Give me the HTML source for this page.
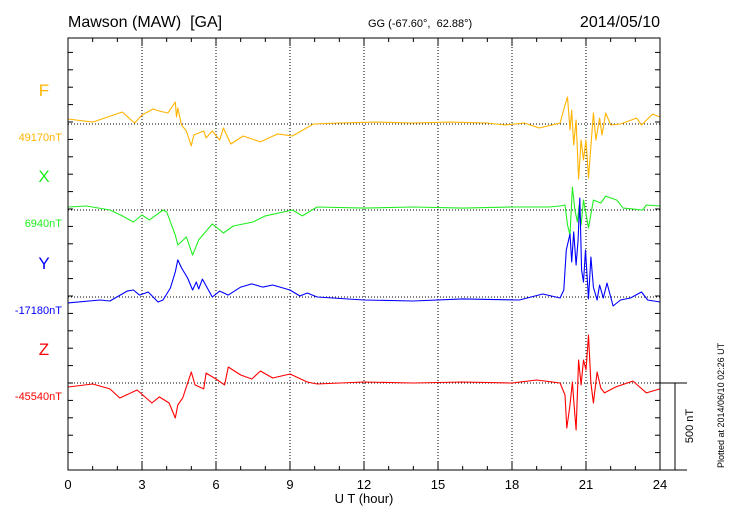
<!DOCTYPE html>
<html><head><meta charset="utf-8"><style>
body{margin:0;background:#fff;}
svg{display:block;font-family:"Liberation Sans",sans-serif;}
svg text{white-space:pre;}
</style></head><body>
<svg id="chart" width="730" height="520" viewBox="0 0 730 520">
<text x="68" y="27" font-size="16" xml:space="preserve">Mawson (MAW)  [GA]</text>
<text x="368" y="27" font-size="11" xml:space="preserve">GG (-67.60°,  62.88°)</text>
<text x="660" y="27" font-size="16" text-anchor="end">2014/05/10</text>
<g id="grid"></g>
<g id="series"></g>
<rect x="68" y="38" width="592" height="432" fill="none" stroke="#000" stroke-width="1"/>
<g id="ticks"></g>
<text x="364" y="503" font-size="13" text-anchor="middle">U T (hour)</text>
<g stroke="#000" stroke-width="1">
<line x1="660" y1="383" x2="687" y2="383"/><line x1="675" y1="383" x2="675" y2="470"/><line x1="660" y1="470" x2="687" y2="470"/>
</g>
<text transform="translate(693,426) rotate(-90)" font-size="11" text-anchor="middle">500 nT</text>
<text transform="translate(724,468) rotate(-90)" font-size="9">Plotted at 2014/06/10 02:26 UT</text>
</svg>
<script>
const hoursF=[0,1,2.2,2.7,3,3.45,3.7,4.05,4.35,4.4,4.45,4.6,4.8,5,5.1,5.5,5.6,5.85,6.15,6.3,6.6,7.1,7.8,8.5,9.1,9.95,11,12.5,14,15.5,17,17.7,18.5,19.1,19.95,20.15,20.25,20.35,20.42,20.5,20.6,20.7,20.8,20.9,21,21.1,21.3,21.4,21.55,21.65,21.8,22,22.4,23.05,23.25,23.7,24];
const valsF=[29,11,69,6,52,86,75,63,126,40,92,-6,-40,-126,-63,-40,-80,-40,-92,-23,-115,-69,-103,-57,-69,0,6,11,6,11,6,-6,6,-23,6,109,155,-34,80,-121,23,-316,-92,-207,-92,-310,63,-92,34,-63,63,-6,0,34,-6,57,40];
const hoursX=[0,0.75,1.7,2.2,2.65,3,3.3,3.85,4,4.35,4.45,4.8,5.05,5.3,5.85,6.3,6.7,7.5,8,9.1,9.5,10.1,12,14,16,18,19.5,19.95,20.15,20.25,20.35,20.45,20.55,20.65,20.72,20.8,20.9,21.1,21.3,21.6,21.8,22.25,22.5,23.3,23.45,24];
const valsX=[17,23,0,-34,-69,-29,-57,0,-11,-144,-201,-155,-259,-172,-80,-132,-92,-69,-34,0,-34,17,11,17,11,17,17,23,29,-86,-144,132,0,-69,29,-86,57,-103,57,40,80,57,11,0,29,23];
const hoursY=[0,1.3,1.7,2.4,2.65,2.9,3.25,3.65,3.85,4.15,4.35,4.45,4.6,4.85,5.05,5.2,5.3,5.45,5.85,6.15,6.5,7,7.45,7.9,8.3,9,9.4,9.7,10.1,12,14,16,18.3,19.25,19.95,20.1,20.2,20.35,20.42,20.5,20.6,20.68,20.75,20.82,20.9,20.98,21.1,21.2,21.3,21.45,21.55,21.7,21.85,22.1,22.4,22.8,23.25,23.5,24];
const valsY=[-34,-17,-23,34,40,11,29,-29,-17,52,144,213,167,109,40,86,46,103,0,34,11,57,75,57,69,40,6,23,0,-17,-23,-11,-17,17,-6,40,270,362,201,374,184,328,569,155,86,270,-11,230,57,-17,69,-6,80,-52,-17,-6,29,-17,-29];
const hoursZ=[0,1,1.7,2.1,2.8,3.4,3.7,4.1,4.35,4.45,4.65,5,5.15,5.5,5.6,6,6.35,6.5,7,7.45,7.8,8.3,9,9.7,10.1,12,14,16,18,19,19.95,20.15,20.22,20.35,20.45,20.5,20.6,20.7,20.8,20.9,21,21.1,21.2,21.3,21.45,21.6,21.75,22.2,22.9,23.45,24];
const valsZ=[-23,-6,-34,-86,-40,-115,-80,-115,-201,-126,-86,63,-11,-34,57,23,-11,92,46,23,69,29,52,6,-6,6,0,6,0,17,0,-69,-259,-126,6,-98,-270,132,-11,132,75,276,0,-115,63,-29,-57,-23,11,-57,-34];
const seriesList=[
 {name:'f',hours:hoursF,vals:valsF,base:124,color:'#ffb400',label:'F',nt:'49170nT'},
 {name:'x',hours:hoursX,vals:valsX,base:210,color:'#22ee22',label:'X',nt:'6940nT'},
 {name:'y',hours:hoursY,vals:valsY,base:297,color:'#0000ff',label:'Y',nt:'-17180nT'},
 {name:'z',hours:hoursZ,vals:valsZ,base:383,color:'#ff0000',label:'Z',nt:'-45540nT'}];
const xTicks=[0,3,6,9,12,15,18,21,24];
const NS='http://www.w3.org/2000/svg';
const X0=68,X1=660,Y0=38,Y1=470;
function xs(h){return X0+(X1-X0)*h/24;}
function ys(v,b){return b-v*87/500;}
function mk(t,a,p){const e=document.createElementNS(NS,t);for(const k in a)e.setAttribute(k,a[k]);p.appendChild(e);return e;}
const grid=document.getElementById('grid'),ser=document.getElementById('series'),tk=document.getElementById('ticks'),svg=document.getElementById('chart');
for(const h of xTicks){
 if(h>0&&h<24){const l=mk('line',{x1:xs(h),x2:xs(h),y1:Y0,y2:Y1,stroke:'#000','stroke-dasharray':'1,2','stroke-width':1},grid);
 
 }
 const t=mk('text',{x:xs(h),y:489,'font-size':13,'text-anchor':'middle'},svg);t.textContent=h;
 
 
}
for(let h=0;h<=24;h++){const L=h%3===0?8:4;
 mk('line',{x1:xs(h),x2:xs(h),y1:Y0,y2:Y0+L,stroke:'#000'},tk);
 mk('line',{x1:xs(h),x2:xs(h),y1:Y1,y2:Y1-L,stroke:'#000'},tk);}
for(let i=1;i<25;i++){const y=Y1-i*87/5;
 mk('line',{x1:X0,x2:X0+5,y1:y,y2:y,stroke:'#000'},tk);
 mk('line',{x1:X1,x2:X1-5,y1:y,y2:y,stroke:'#000'},tk);}
for(const s of seriesList){
 const bl=mk('line',{x1:X0,x2:X1,y1:s.base,y2:s.base,stroke:'#000','stroke-dasharray':'1,2'},grid);
 
 
 const d=s.hours.map((h,i)=>(i?'L':'M')+xs(h).toFixed(1)+','+ys(s.vals[i],s.base).toFixed(1)).join('');
 const p=mk('path',{d:d,fill:'none',stroke:s.color,'stroke-width':1.1,'stroke-linejoin':'round'},ser);
 
 
 const t=mk('text',{x:44,y:s.base-28,'font-size':17,'text-anchor':'middle',fill:s.color},svg);t.textContent=s.label;
 
 
 const n=mk('text',{x:62,y:s.base+17,'font-size':11,'text-anchor':'end',fill:s.color},svg);n.textContent=s.nt;
 
 
}
</script>
</body></html>
